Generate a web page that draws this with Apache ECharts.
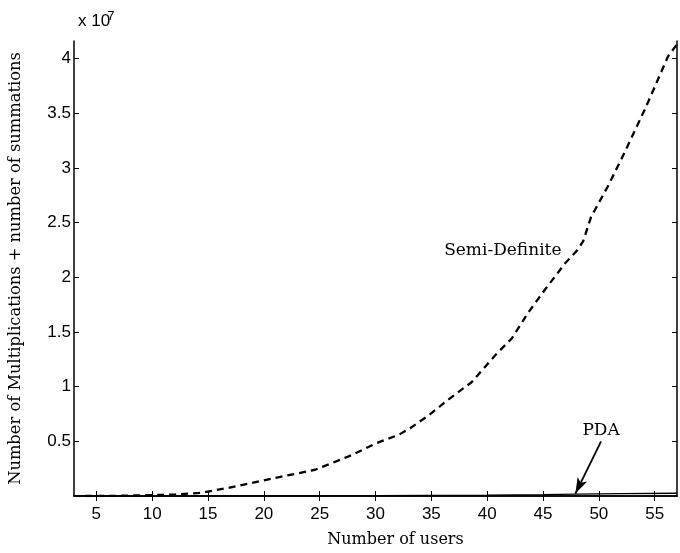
<!DOCTYPE html>
<html>
<head>
<meta charset="utf-8">
<script src="https://cdn.jsdelivr.net/npm/echarts@6/dist/echarts.min.js"></script>
<style>
html,body{margin:0;padding:0;background:#fff;}
#chart{width:680px;height:553px;}
</style>
</head>
<body>
<div id="chart"></div>
<script>
// Values in units of 1e7
const xTicks = [5, 10, 15, 20, 25, 30, 35, 40, 45, 50, 55];
const yTicks = [0.5, 1, 1.5, 2, 2.5, 3, 3.5, 4];
const semiX = [4, 6, 8, 10, 12, 14.5, 17.5, 21, 24.6, 27.9, 30, 32.1, 33.1, 34.8, 36.5, 38.6, 40.7, 42.2, 43.7, 45.2, 47, 48.1, 48.6, 49.3, 50.8, 52.3, 54.1, 56.2, 57];
const semiY = [0, 0, 0.004, 0.008, 0.013, 0.03, 0.088, 0.165, 0.24, 0.375, 0.48, 0.56, 0.62, 0.74, 0.88, 1.04, 1.285, 1.44, 1.68, 1.89, 2.13, 2.25, 2.33, 2.55, 2.83, 3.14, 3.53, 4.02, 4.13];
const pdaX = [3, 10, 20, 30, 40, 45, 48, 52, 57];
const pdaY = [0, 0.001, 0.002, 0.004, 0.008, 0.012, 0.018, 0.022, 0.025];
const pdaArrow = [[50.2, 0.5], [47.9, 0.022]];
const pdaLabel = [50.2, 0.6];
const semiLabel = [41.4, 2.24];

const zip = (a, b) => a.map((v, i) => [v, b[i]]);
const sans = 'Liberation Sans';
const serif = 'DejaVu Serif';

const chart = echarts.init(document.getElementById('chart'));
const baseX = {
  type: 'value', min: 3, max: 57,
  axisLine: {show: true, lineStyle: {color: '#000', width: 1.5}},
  splitLine: {show: false}
};
const baseY = {
  type: 'value', min: 0, max: 4.16,
  axisLine: {show: true, lineStyle: {color: '#000', width: 1.5}},
  splitLine: {show: false}
};
chart.setOption({
  backgroundColor: '#fff',
  animation: false,
  grid: {left: 74, right: 3, top: 41, bottom: 55},
  xAxis: [
    Object.assign({}, baseX, {
      position: 'bottom',
      name: 'Number of users', nameLocation: 'middle', nameGap: 36,
      nameTextStyle: {fontFamily: serif, fontSize: 16, color: '#000', padding: [0, 0, 0, 40]},
      axisTick: {show: true, inside: true, length: 5, customValues: xTicks, lineStyle: {color: '#000'}},
      axisLabel: {customValues: xTicks, fontFamily: sans, fontSize: 17, color: '#000', margin: 10}
    }),
    Object.assign({}, baseX, {
      position: 'top',
      axisTick: {show: true, inside: true, length: 5, customValues: xTicks, lineStyle: {color: '#000'}},
      axisLabel: {show: false}
    })
  ],
  yAxis: [
    Object.assign({}, baseY, {
      position: 'left',
      name: 'Number of Multiplications + number of summations', nameLocation: 'middle', nameGap: 50,
      nameTextStyle: {fontFamily: serif, fontSize: 16.3, color: '#000'},
      axisTick: {show: true, inside: true, length: 5, customValues: yTicks, lineStyle: {color: '#000'}},
      axisLabel: {customValues: yTicks, fontFamily: sans, fontSize: 17, color: '#000', margin: 3}
    }),
    Object.assign({}, baseY, {
      position: 'right',
      axisTick: {show: true, inside: true, length: 5, customValues: yTicks, lineStyle: {color: '#000'}},
      axisLabel: {show: false}
    })
  ],
  graphic: [{
    type: 'text', left: 78, top: 10,
    style: {
      text: 'x 10{sup|7}', fill: '#000', font: '17px "Liberation Sans"',
      rich: {sup: {fontSize: 13, fontFamily: sans, verticalAlign: 'top', padding: [0, 0, 10, -3]}}
    }
  }],
  series: [
    {
      name: 'Semi-Definite', type: 'line', data: zip(semiX, semiY),
      symbol: 'none', smooth: false,
      lineStyle: {color: '#000', width: 2.3, type: [7, 5]},
      markPoint: {
        symbol: 'circle', symbolSize: 0, silent: true,
        label: {show: true, position: 'inside', formatter: 'Semi-Definite', fontFamily: serif, fontSize: 17, color: '#000'},
        data: [{coord: semiLabel}]
      }
    },
    {
      name: 'PDA', type: 'line', data: zip(pdaX, pdaY),
      symbol: 'none',
      lineStyle: {color: '#000', width: 1.3},
      markPoint: {
        symbol: 'circle', symbolSize: 0, silent: true,
        label: {show: true, position: 'inside', formatter: 'PDA', fontFamily: serif, fontSize: 17, color: '#000'},
        data: [{coord: pdaLabel}]
      },
      markLine: {
        silent: true, symbol: ['none', 'arrow'], symbolSize: [8, 16],
        label: {show: false},
        lineStyle: {color: '#000', width: 1.8, type: 'solid'},
        data: [[{coord: pdaArrow[0]}, {coord: pdaArrow[1]}]]
      }
    }
  ]
});
</script>
</body>
</html>
